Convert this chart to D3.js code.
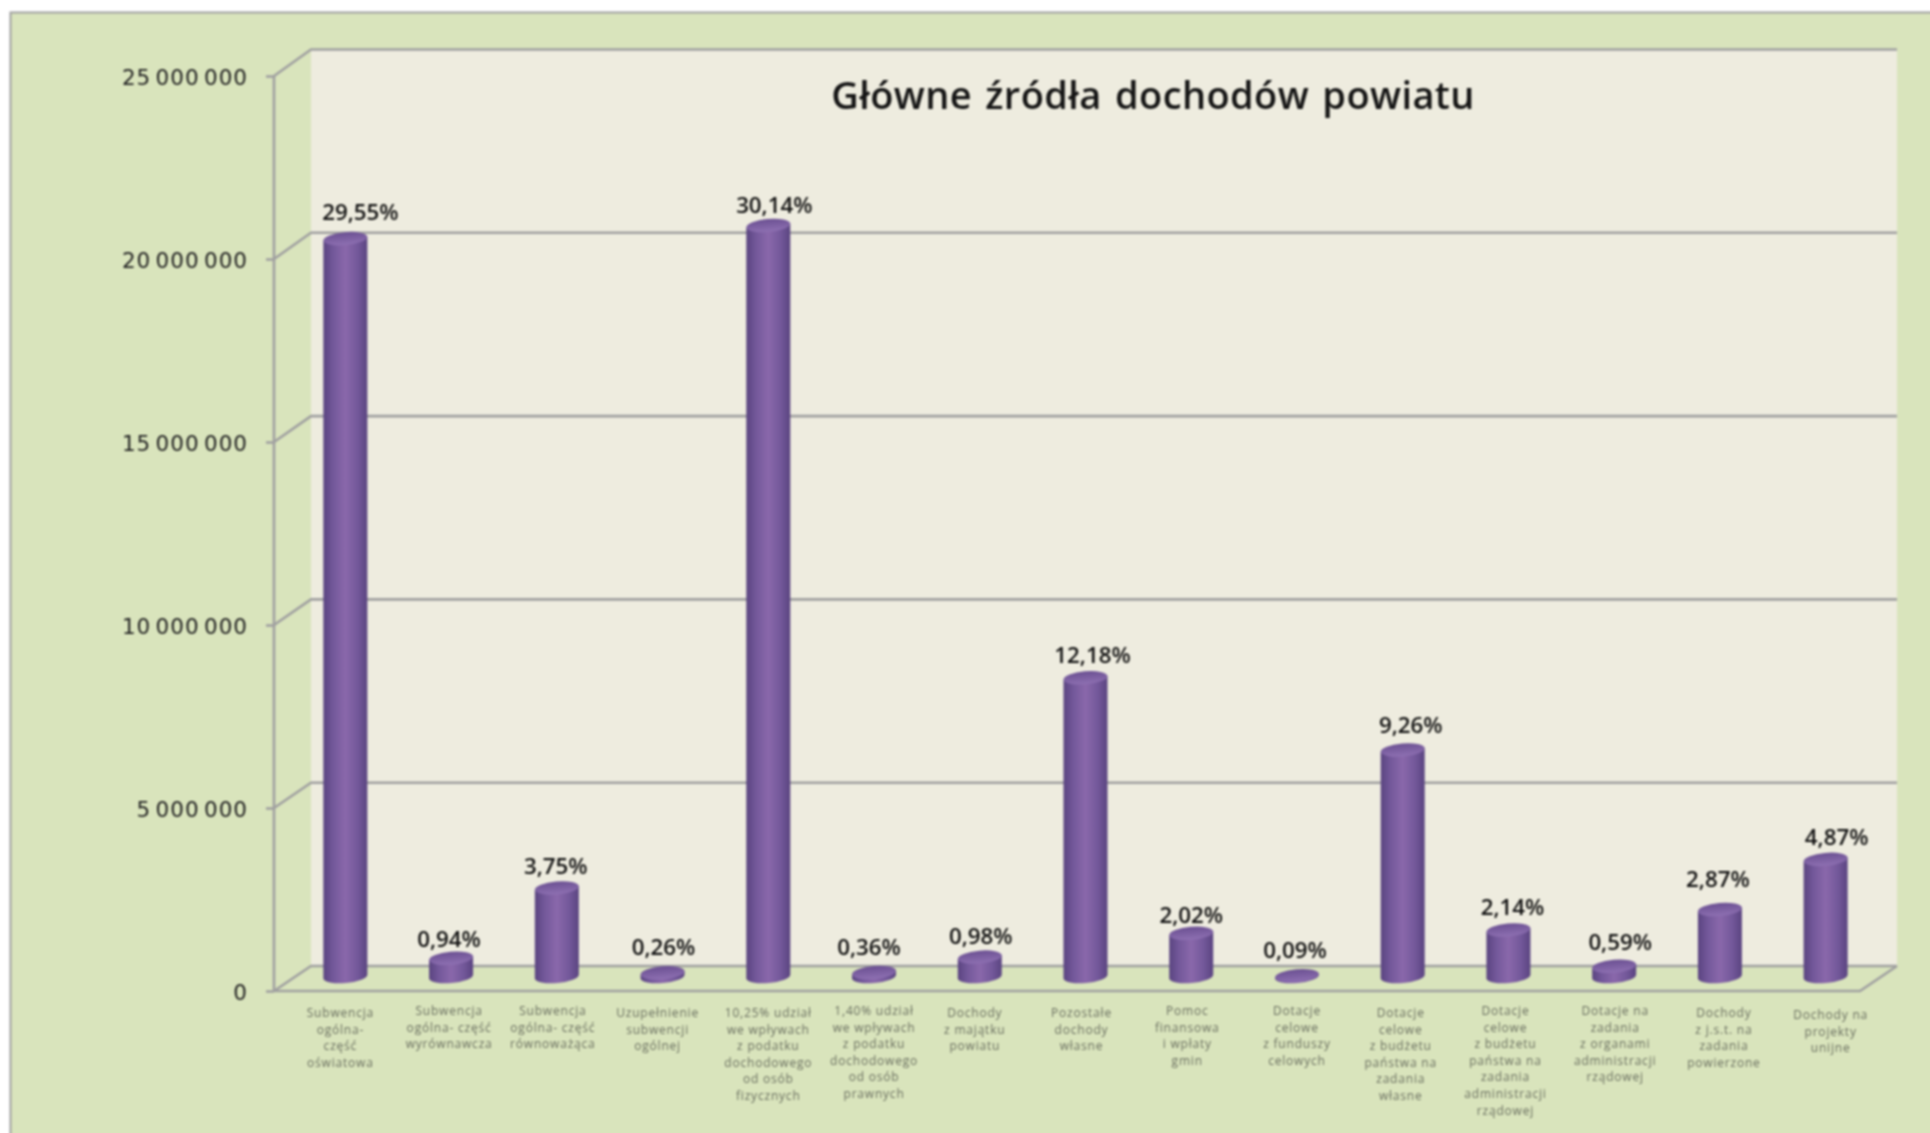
<!DOCTYPE html>
<html>
<head>
<meta charset="utf-8">
<script src="https://cdn.jsdelivr.net/npm/d3@7"></script>
<style>
html, body { margin: 0; padding: 0; background: #fff; overflow: hidden; }
svg { display: block; filter: blur(0.8px); }
text { font-family: "Open Sans", sans-serif; }
</style>
</head>
<body>
<div id="chart"></div>
<script>
var chartTitle = "Główne źródła dochodów powiatu";

var categories = [
    ["Subwencja", "ogólna-", "część", "oświatowa"],
    ["Subwencja", "ogólna- część", "wyrównawcza"],
    ["Subwencja", "ogólna- część", "równoważąca"],
    ["Uzupełnienie", "subwencji", "ogólnej"],
    ["10,25% udział", "we wpływach", "z podatku", "dochodowego", "od osób", "fizycznych"],
    ["1,40% udział", "we wpływach", "z podatku", "dochodowego", "od osób", "prawnych"],
    ["Dochody", "z majątku", "powiatu"],
    ["Pozostałe", "dochody", "własne"],
    ["Pomoc", "finansowa", "i wpłaty", "gmin"],
    ["Dotacje", "celowe", "z funduszy", "celowych"],
    ["Dotacje", "celowe", "z budżetu", "państwa na", "zadania", "własne"],
    ["Dotacje", "celowe", "z budżetu", "państwa na", "zadania", "administracji", "rządowej"],
    ["Dotacje na", "zadania", "z organami", "administracji", "rządowej"],
    ["Dochody", "z j.s.t. na", "zadania", "powierzone"],
    ["Dochody na", "projekty", "unijne"]
];
var values = [20160000, 500000, 2420000, 100000, 20520000, 110000, 530000, 8160000, 1180000, 20000, 6190000, 1270000, 280000, 1830000, 3200000];
var percentLabels = ["29,55%", "0,94%", "3,75%", "0,26%", "30,14%", "0,36%", "0,98%", "12,18%", "2,02%", "0,09%", "9,26%", "2,14%", "0,59%", "2,87%", "4,87%"];
var yTicks = [0, 5000000, 10000000, 15000000, 20000000, 25000000];

// hand placed labels in the original, offsets from the default spot
var percentNudgeX = [15, -2, -1, 1, 6, -5, 1, 7, 0, -2, 8, 4, 6, -2, 11];
var percentNudgeY = [-20, -13, -15, -19, -14, -19, -15, -16, -12, -19, -18, -17, -18, -24, -16];
var categoryNudgeX = [-5, -2, -4, -5, 0, 0, -5, -4, -4, 0, -2, -3, 1, 4, 5];
var categoryNudgeY = [2, 0, 0, 2, 2, 0, 2, 2, 0, 0, 2, 0, 0, 2, 4];

var width = 1930, height = 1133;
var depthX = 37;
var left = 274, right = 1860, floorY = 991, topY = 76;
var rx = 22, ry = 6.5, tilt = -5;
var lineColor = "#a0a0a0";

// drawn a bit past the window so the blur does not fade the cut edges
var svg = d3.select("#chart").append("svg")
    .attr("width", width + 30)
    .attr("height", height + 30);

var defs = svg.append("defs");
var side = defs.append("linearGradient").attr("id", "side");
side.append("stop").attr("offset", "0%").attr("stop-color", "#5a4480");
side.append("stop").attr("offset", "22%").attr("stop-color", "#73589a");
side.append("stop").attr("offset", "50%").attr("stop-color", "#8a68ab");
side.append("stop").attr("offset", "78%").attr("stop-color", "#73589a");
side.append("stop").attr("offset", "100%").attr("stop-color", "#5a4480");
var cap = defs.append("linearGradient").attr("id", "cap")
    .attr("x1", 0).attr("y1", 0).attr("x2", 0).attr("y2", 1);
cap.append("stop").attr("offset", "0%").attr("stop-color", "#6b5092");
cap.append("stop").attr("offset", "100%").attr("stop-color", "#8e70b2");

var yFront = d3.scaleLinear().domain([0, 25000000]).range([floorY, topY]);
var yBack = d3.scaleLinear().domain([0, 25000000]).range([966, 49.5]);
var yBar = d3.scaleLinear().domain([0, 25000000]).range([976.5, 61.5]);
var x = d3.scaleBand().domain(d3.range(categories.length))
    .range([left + depthX / 2, right + depthX / 2]);

// frame and back wall
svg.append("rect")
    .attr("x", 10.5).attr("y", 12.5)
    .attr("width", width + 40).attr("height", height + 40)
    .attr("fill", "#d9e4bc")
    .attr("stroke", lineColor)
    .attr("stroke-width", 2);

svg.append("rect")
    .attr("x", left + depthX).attr("y", yBack(25000000))
    .attr("width", right - left)
    .attr("height", yBack(0) - yBack(25000000))
    .attr("fill", "#eeecdf");

// grid on the wall and the diagonal joins to the front axis
var grid = svg.append("g").attr("fill", "none").attr("stroke", lineColor).attr("stroke-width", 2.6);
yTicks.forEach(function(t){
    grid.append("path").attr("d", "M" + left + "," + yFront(t) + "L" + (left + depthX) + "," + yBack(t) + "H" + (right + depthX));
});
grid.append("path").attr("d", "M" + left + "," + floorY + "H" + right + "L" + (right + depthX) + "," + yBack(0));

var axis = d3.axisLeft(yFront)
    .tickValues(yTicks)
    .tickSize(8)
    .tickPadding(18)
    .tickFormat(function(d){ return d3.format(",")(d).replace(/,/g, " "); });
var axisG = svg.append("g").attr("transform", "translate(" + left + ",0)").call(axis);
axisG.selectAll("path, line").attr("stroke", lineColor).attr("stroke-width", 2.6);
axisG.select(".domain").attr("d", "M0," + topY + "V" + floorY);
axisG.selectAll("text")
    .attr("dy", "0.38em")
    .style("font-family", "'DejaVu Sans'")
    .style("font-size", "21.5px")
    .style("letter-spacing", "1px")
    .style("word-spacing", "-3.5px")
    .attr("fill", "#222");

// cylinders
var sin = Math.sin(tilt * Math.PI / 180);
var bars = svg.selectAll(".bar").data(values).enter().append("g").attr("class", "bar");

bars.append("path")
    .attr("fill", "url(#side)")
    .attr("d", function(d, i){
        var cx = x(i) + x.bandwidth() / 2, yt = yBar(d), yb = yBar(0), dy = rx * sin;
        return "M" + (cx - rx) + "," + (yt - dy) +
            "L" + (cx - rx) + "," + (yb - dy) +
            "A" + rx + "," + ry + "," + tilt + ",0,0," + (cx + rx) + "," + (yb + dy) +
            "L" + (cx + rx) + "," + (yt + dy) + "Z";
    });

bars.append("ellipse")
    .attr("fill", "url(#cap)")
    .attr("rx", rx)
    .attr("ry", ry)
    .attr("transform", function(d, i){
        return "translate(" + (x(i) + x.bandwidth() / 2) + "," + yBar(d) + ") rotate(" + tilt + ")";
    });

// percent labels
svg.selectAll(".percent").data(percentLabels).enter().append("text")
    .attr("class", "percent")
    .attr("text-anchor", "middle")
    .attr("font-size", 22.3)
    .attr("font-weight", 600)
    .attr("fill", "#111")
    .attr("x", function(d, i){ return x(i) + x.bandwidth() / 2 + percentNudgeX[i]; })
    .attr("y", function(d, i){ return yBar(values[i]) - ry + percentNudgeY[i] + 8; })
    .text(function(d){ return d; });

// category labels
svg.selectAll(".category").data(categories).enter().append("text")
    .attr("class", "category")
    .attr("text-anchor", "middle")
    .attr("font-size", 12)
    .attr("letter-spacing", 0.8)
    .attr("fill", "#6a6f60")
    .attr("transform", function(d, i){
        return "translate(" + (x(i) + x.bandwidth() / 2 + categoryNudgeX[i]) + "," + (1015 + categoryNudgeY[i]) + ")";
    })
    .selectAll("tspan").data(function(d){ return d; }).enter().append("tspan")
    .attr("x", 0)
    .attr("y", function(d, i){ return i * 16.6; })
    .text(function(d){ return d; });

svg.append("text")
    .attr("x", 1153)
    .attr("y", 109)
    .attr("text-anchor", "middle")
    .attr("font-size", 38)
    .attr("font-weight", 600)
    .attr("letter-spacing", 0.4)
    .attr("word-spacing", 3)
    .attr("fill", "#151515")
    .text(chartTitle);
</script>
</body>
</html>
